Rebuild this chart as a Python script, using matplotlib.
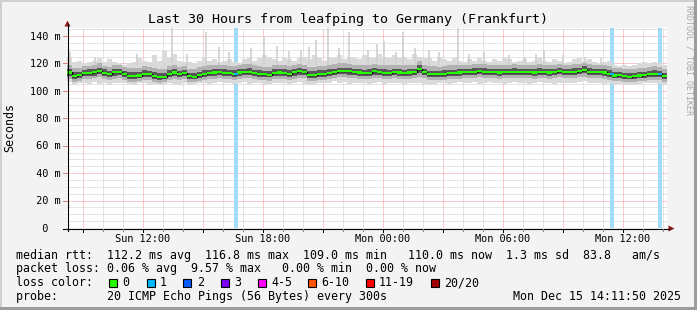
import numpy as np
import matplotlib
matplotlib.use('Agg')
import matplotlib.pyplot as plt
from matplotlib.patches import Rectangle, Polygon
from matplotlib.lines import Line2D
import matplotlib.transforms as mtransforms

W, H, DPI = 697, 310, 100
MONO = 'DejaVu Sans Mono'

# ---------------- data ----------------
title = "Last 30 Hours from leafping to Germany (Frankfurt)"
t_start = 8 + 11 / 60 + 50 / 3600      # Sun 08:11:50, hours since Sun 00:00
span_hours = 30
step_hours = 0.25

median = [113.4,110.8,111.5,112.8,113.2,113.6,114.6,113.2,112.0,113.6,
          113.6,112.0,111.0,111.0,111.2,112.5,112.0,110.8,110.2,110.4,
          112.5,113.4,112.0,112.8,110.5,110.4,111.5,112.5,113.0,113.4,
          113.8,113.2,112.8,112.6,113.4,113.8,114.0,113.0,112.5,112.2,
          111.8,113.2,113.4,113.0,112.6,113.6,114.2,113.8,111.6,111.8,
          112.4,112.6,113.2,113.8,114.6,114.4,114.2,113.6,113.4,113.0,
          113.2,114.2,113.8,113.2,113.0,113.6,113.4,113.0,113.4,113.6,
          116.2,113.8,112.4,112.2,112.0,112.6,113.0,113.0,113.4,113.6,
          113.8,114.0,114.2,114.0,113.8,113.6,113.4,113.8,113.6,114.0,
          113.8,113.6,113.8,113.4,114.0,113.6,113.4,113.6,114.2,113.6,
          113.8,114.0,114.2,115.4,114.0,113.8,113.6,113.4,112.6,111.2,
          111.4,110.6,110.4,110.8,111.2,111.6,112.0,112.6,112.4,110.6]

core_lo = [111.0,108.8,109.5,110.6,111.0,111.2,112.0,111.0,110.0,111.2,
           111.4,110.0,108.8,109.0,109.2,110.2,110.0,108.6,108.2,108.4,
           110.2,111.0,110.0,110.6,108.4,108.4,109.4,110.4,110.8,111.0,
           111.4,111.0,110.6,110.4,111.0,111.6,111.6,110.8,110.2,110.0,
           109.8,111.0,111.2,110.8,110.4,111.2,111.8,111.4,109.4,109.6,
           110.2,110.4,111.0,111.4,112.0,112.0,111.8,111.4,111.2,110.8,
           111.0,111.8,111.4,111.0,110.8,111.4,111.0,110.8,111.2,111.4,
           113.0,111.4,110.2,110.0,110.0,110.4,110.8,110.8,111.2,111.4,
           111.6,111.8,112.0,111.8,111.6,111.4,111.2,111.6,111.4,111.8,
           111.6,111.4,111.6,111.2,111.8,111.4,111.2,111.4,112.0,111.4,
           111.6,111.8,112.0,112.8,111.8,111.6,111.4,111.2,110.4,109.2,
           109.4,108.6,108.4,108.8,109.2,109.4,109.8,110.4,110.2,108.6]

core_hi = [116.0,113.4,114.0,115.2,115.6,116.0,117.0,115.6,114.6,116.0,
           116.0,114.6,113.6,113.4,113.8,115.0,114.4,113.4,112.8,113.0,
           115.0,115.8,114.6,115.2,113.0,113.0,114.0,115.0,115.4,115.8,
           116.2,115.6,115.2,115.0,115.8,116.2,116.6,115.4,115.0,114.8,
           114.4,115.6,115.8,115.6,115.0,116.0,116.8,116.2,114.2,114.4,
           115.0,115.2,115.8,116.2,117.0,116.8,116.6,116.0,115.8,115.4,
           115.6,116.6,116.2,115.6,115.4,116.0,115.8,115.4,115.8,116.0,
           118.6,116.2,114.8,114.6,114.4,115.0,115.4,115.4,115.8,116.0,
           116.2,116.4,116.6,116.4,116.2,116.0,115.8,116.2,116.0,116.4,
           116.2,116.0,116.2,115.8,116.4,116.0,115.8,116.0,116.6,116.0,
           116.2,116.4,116.6,117.8,116.4,116.2,116.0,115.8,115.0,113.6,
           113.8,113.0,112.8,113.2,113.6,114.0,114.4,115.0,114.8,113.0]

mid_lo = [108.6,106.6,107.2,108.4,108.8,109.2,109.8,108.6,107.6,109.0,
          109.2,107.6,106.6,106.8,107.0,108.0,107.8,106.4,106.0,106.2,
          108.0,108.8,107.8,108.4,106.4,106.2,107.2,108.2,108.6,108.8,
          109.2,108.8,108.4,108.0,108.8,109.4,109.4,108.6,108.0,107.6,
          107.4,108.8,109.0,108.6,108.2,109.0,109.6,109.2,107.2,107.4,
          108.0,108.2,108.8,109.2,109.8,109.8,109.6,109.2,109.0,108.6,
          108.8,109.6,109.2,108.8,108.6,109.2,108.8,108.6,109.0,109.2,
          110.2,109.2,108.0,107.8,107.8,108.2,108.6,108.6,109.0,109.2,
          109.4,109.6,109.8,109.6,109.4,109.2,109.0,109.4,109.2,109.6,
          109.4,109.2,109.4,109.0,109.6,109.2,109.0,109.2,109.8,109.2,
          109.4,109.6,109.8,110.4,109.6,109.4,109.2,109.0,108.2,107.0,
          107.2,106.4,106.2,106.6,107.0,107.2,107.6,108.2,108.0,106.4]

mid_hi = [119.0,116.4,117.0,118.2,118.4,119.0,120.0,118.4,117.6,119.0,
          118.8,117.4,116.4,116.4,116.8,118.0,117.6,116.4,116.0,116.2,
          118.0,118.8,117.6,118.4,116.2,116.0,117.2,118.2,118.6,118.8,
          119.2,118.6,118.4,118.0,118.8,119.4,119.6,118.6,118.0,117.6,
          117.4,118.8,119.0,118.6,118.2,119.0,119.8,119.2,117.2,117.4,
          118.0,118.2,119.0,119.4,120.2,120.0,119.6,119.2,119.0,118.6,
          118.8,119.8,119.2,118.8,118.6,119.2,118.8,118.6,119.0,119.2,
          121.6,119.2,118.0,117.8,117.6,118.2,118.6,118.6,119.0,119.2,
          119.2,119.4,119.6,119.4,119.2,119.0,118.8,119.2,119.0,119.4,
          119.2,119.0,119.2,118.8,119.4,119.0,118.8,119.0,119.6,119.0,
          119.2,119.4,119.6,120.6,119.4,119.2,119.0,118.8,117.8,116.4,
          116.6,115.8,115.6,116.0,116.4,116.8,117.2,117.8,117.6,115.8]

ping_min = [106.5,104.0,105.5,106.0,105.0,106.5,105.0,106.0,104.5,106.0,
            105.5,106.0,105.0,104.0,105.5,106.0,104.5,105.0,104.0,105.0,
            106.0,105.0,104.5,106.0,104.0,105.0,105.5,106.0,105.0,106.0,
            106.5,105.5,106.0,105.0,106.0,106.5,105.0,106.0,105.5,104.5,
            105.0,106.0,105.5,106.0,105.0,106.0,106.5,105.0,104.5,105.0,
            106.0,105.5,106.0,107.0,106.0,106.5,105.0,106.0,105.5,106.0,
            105.0,106.0,106.5,105.0,106.0,105.5,106.0,105.0,106.0,105.5,
            106.0,105.0,104.5,105.0,105.5,106.0,105.0,106.0,106.5,105.5,
            106.0,106.5,105.0,106.0,106.5,105.5,106.0,105.0,106.0,106.5,
            105.5,106.0,105.0,106.0,106.5,105.5,106.0,105.0,106.0,106.0,
            105.5,106.0,106.5,107.0,106.0,105.5,106.0,105.0,105.5,104.5,
            105.0,104.5,104.0,104.5,105.0,105.5,106.0,105.5,105.0,104.5]

ping_max = [125,121,122,120,121,122,124,121,123,121,
            120,119,120,121,124,122,121,126,122,129,
            124,127,122,121,121,120,122,124,122,123,
            121,122,123,121,120,123,125,122,124,126,
            125,123,122,124,123,122,124,125,123,126,
            124,122,125,124,126,123,125,124,123,126,
            125,124,127,125,124,126,124,125,123,127,
            125,124,124,122,125,123,122,124,122,121,
            123,122,124,122,121,123,122,124,123,121,
            122,123,121,122,124,122,121,123,122,120,
            121,123,124,122,123,121,120,121,122,119,
            118,119,118,119,120,121,120,121,120,119]

spike_times = [8.35, 9.60, 11.70, 13.45, 14.20, 15.15, 15.80, 16.30, 17.40, 18.05,
               18.70, 19.30, 19.90, 20.30, 20.65, 21.25, 21.80, 22.30, 23.25, 23.70,
               24.05, 24.65, 25.00, 25.60, 26.30, 26.80, 27.75, 28.30, 29.05, 30.30,
               31.10, 31.65, 32.05, 33.00, 34.10, 34.90]
spike_tops = [128, 125, 127, 146, 127, 143, 132, 128, 131, 140,
              133, 129, 130, 132, 137, 146, 131, 143, 130, 134,
              136, 128, 143, 131, 130, 128, 146, 127, 128, 126,
              125, 127, 129, 126, 125, 124]

loss_times = [16.55, 35.35, 37.75]
loss_counts = [1, 1, 1]
loss_width_h = 0.2

ytick_values = [0, 20, 40, 60, 80, 100, 120, 140]
ytick_labels = ["  0  ", " 20 m", " 40 m", " 60 m", " 80 m", "100 m", "120 m", "140 m"]
xtick_hours = [12, 18, 24, 30, 36]
xtick_labels = ["Sun 12:00", "Sun 18:00", "Mon 00:00", "Mon 06:00", "Mon 12:00"]

legend_line1 = "median rtt:  112.2 ms avg  116.8 ms max  109.0 ms min   110.0 ms now  1.3 ms sd  83.8   am/s"
legend_line2 = "packet loss: 0.06 % avg  9.57 % max   0.00 % min  0.00 % now"
legend_line3 = "loss color:"
legend_line4 = "probe:       20 ICMP Echo Pings (56 Bytes) every 300s"
date_text = "Mon Dec 15 14:11:50 2025"
loss_labels = ["0", "1", "2", "3", "4-5", "6-10", "11-19", "20/20"]
loss_colors = ["#26ff00", "#00b8ff", "#0059ff", "#7e00ff", "#ff00ff", "#ff5500", "#ff0000", "#a10000"]

# ---------------- figure ----------------
def fx(x):
    return x / W

def fy(y):
    return 1 - y / H

fig = plt.figure(figsize=(W / DPI, H / DPI), dpi=DPI, facecolor='#f3f3f3')

# frame
fig.add_artist(Rectangle((0, fy(2)), 1, 2 / H, transform=fig.transFigure, color='#cfcfcf', lw=0))
fig.add_artist(Rectangle((0, 0), 2 / W, 1, transform=fig.transFigure, color='#cfcfcf', lw=0))
fig.add_artist(Rectangle((0, 0), 1, 3 / H, transform=fig.transFigure, color='#9c9c9c', lw=0))
fig.add_artist(Rectangle((fx(W - 3), 0), 3 / W, 1, transform=fig.transFigure, color='#9c9c9c', lw=0))

ax_l, ax_r, ax_b = 67, 667, 228
ppm = 1.3714   # pixels per ms
ax_t = 28
ax = fig.add_axes([fx(ax_l), fy(ax_b), (ax_r - ax_l) / W, (ax_b - ax_t) / H])
ax.set_facecolor('white')
ax.set_xlim(t_start, t_start + span_hours)
ax.set_ylim(0, (ax_b - ax_t) / ppm)
for s in ax.spines.values():
    s.set_visible(False)
ax.set_xticks([])
ax.set_yticks([])

# grid
dot = (0, (1, 1))
for h in range(int(np.ceil(t_start)), int(t_start + span_hours) + 1):
    major = (h % 3 == 0)
    ax.axvline(h, color='#f29a9a' if major else '#cdcdcd', lw=0.72, ls=dot, zorder=1)
for v in range(5, 146, 5):
    major = (v % 20 == 0)
    ax.axhline(v, color='#f29a9a' if major else '#cdcdcd', lw=0.72, ls=dot, zorder=1)

# loss bands
for lt, lc in zip(loss_times, loss_counts):
    ax.axvspan(lt, lt + loss_width_h, color='#a0dcf6', lw=0, zorder=2)

# smoke
n = len(median)
t = t_start + step_hours * np.arange(n + 1)
def ext(a):
    a = np.asarray(a, dtype=float)
    return np.append(a, a[-1])

ax.fill_between(t, ext(ping_min), ext(ping_max), step='post', color='#dadada', lw=0, zorder=3)
ax.vlines(spike_times, 118, spike_tops, color='#d0d0d0', lw=1.2, zorder=3)
ax.fill_between(t, ext(mid_lo), ext(mid_hi), step='post', color='#b2b2b2', lw=0, zorder=3.2)
ax.fill_between(t, ext(core_lo), ext(core_hi), step='post', color='#585858', lw=0, zorder=3.4)

# median
med = ext(median)
ax.step(t, med, where='post', color='black', lw=1.0, zorder=4)
ax.fill_between(t, med - 0.75, med + 0.75, step='post', color='#26ff00', lw=0, zorder=5)
for lt, lc in zip(loss_times, loss_counts):
    idx = min(int((lt - t_start) / step_hours), n - 1)
    ax.fill_between([lt, lt + loss_width_h], median[idx] - 0.75, median[idx] + 0.75,
                    color=loss_colors[lc], lw=0, zorder=5.5)

# tick labels
for v, lab in zip(ytick_values, ytick_labels):
    tr = mtransforms.offset_copy(ax.get_yaxis_transform(), fig=fig, x=0, y=-3.7, units='dots')
    ax.text((29.5 - ax_l) / (ax_r - ax_l), v, lab, transform=tr, ha='left', va='baseline',
            family=MONO, fontsize=7.4, clip_on=False)
for h, lab in zip(xtick_hours, xtick_labels):
    fig.text(ax.transData.transform((h, 0))[0] / W, fy(242), lab, ha='center', va='baseline',
             family=MONO, fontsize=7.4)

# axes lines + arrows
AX_RED = '#901818'
fig.add_artist(Line2D([fx(63), fx(669)], [fy(228.5), fy(228.5)], transform=fig.transFigure,
                      color='black', lw=0.8))
fig.add_artist(Line2D([fx(67.5), fx(67.5)], [fy(231), fy(24)], transform=fig.transFigure,
                      color='black', lw=0.8))
fig.add_artist(Polygon([[fx(64.5), fy(26.5)], [fx(70.5), fy(26.5)], [fx(67.5), fy(20.5)]],
                       closed=True, transform=fig.transFigure, color=AX_RED, lw=0))
fig.add_artist(Polygon([[fx(668.5), fy(225.5)], [fx(668.5), fy(231.5)], [fx(674.5), fy(228.5)]],
                       closed=True, transform=fig.transFigure, color=AX_RED, lw=0))
# small tick marks
for v in ytick_values[1:]:
    yp = ax.transData.transform((t_start, v))[1]
    fig.add_artist(Line2D([fx(63), fx(67)], [yp / H, yp / H], transform=fig.transFigure,
                          color='#e08080', lw=0.72))
for h in range(int(np.ceil(t_start)), int(t_start + span_hours) + 1):
    xp = ax.transData.transform((h, 0))[0]
    ln = 3 if h % 3 == 0 else 2
    fig.add_artist(Line2D([xp / W, xp / W], [fy(228.5), fy(228.5 + ln)], transform=fig.transFigure,
                          color='black' if h % 3 == 0 else '#888888', lw=0.72))

# title and labels
fig.text(0.5, fy(23.3), title, ha='center', va='baseline', family=MONO, fontsize=9.6)
fig.text(fx(10), fy(128), "Seconds", rotation=90, ha='center', va='center', family=MONO, fontsize=8.4)
fig.text(fx(688.5), fy(5), "RRDTOOL / TOBI OETIKER", rotation=270, ha='center', va='top',
         family=MONO, fontsize=6.0, color='#a8a8a8')

# legend
for yb, s in zip([258.6, 272.4, 286.2, 300.0], [legend_line1, legend_line2, legend_line3, legend_line4]):
    fig.text(fx(15.5), fy(yb), s, ha='left', va='baseline', family=MONO, fontsize=8.4)
fig.text(fx(681), fy(300.0), date_text, ha='right', va='baseline', family=MONO, fontsize=8.4)

box_x = [108, 146, 183, 220, 257, 307, 365, 430]
for bx, lab, col in zip(box_x, loss_labels, loss_colors):
    fig.add_artist(Rectangle((fx(bx + 0.5), fy(286.5)), 8 / W, 8 / H, transform=fig.transFigure,
                             facecolor=col, edgecolor='black', lw=0.8))
    fig.text(fx(bx + 14), fy(286.2), lab, ha='left', va='baseline', family=MONO, fontsize=8.4)

fig.savefig('out.png', dpi=DPI, facecolor=fig.get_facecolor())
